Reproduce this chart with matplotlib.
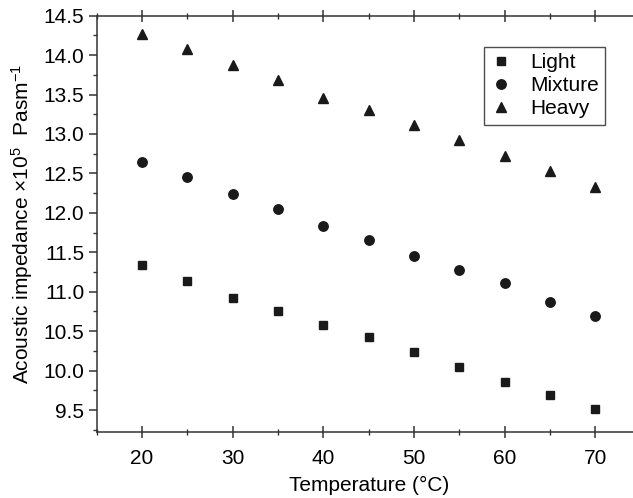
import matplotlib

matplotlib.use("Agg")
import matplotlib.pyplot as plt
from matplotlib.ticker import MultipleLocator, FormatStrFormatter

plt.rcParams["font.family"] = ["Liberation Sans", "DejaVu Sans"]
plt.rcParams["mathtext.fontset"] = "custom"
plt.rcParams["mathtext.rm"] = "Liberation Sans"
plt.rcParams["mathtext.it"] = "Liberation Sans"

temperature = [20, 25, 30, 35, 40, 45, 50, 55, 60, 65, 70]
light = [11.34, 11.13, 10.92, 10.76, 10.58, 10.42, 10.24, 10.05, 9.85, 9.69, 9.51]
mixture = [12.65, 12.45, 12.24, 12.05, 11.83, 11.66, 11.45, 11.27, 11.11, 10.87, 10.69]
heavy = [14.27, 14.08, 13.88, 13.68, 13.46, 13.31, 13.11, 12.92, 12.72, 12.53, 12.33]

FS = 15


def main() -> None:
    fig = plt.figure(figsize=(6.33, 4.98), dpi=100)
    ax = fig.add_axes([0.1528, 0.1331, 1.012 - 0.1528, 0.9685 - 0.1331])

    color = "#1a1a1a"
    ax.plot(temperature, light, "s", color=color, markersize=5.8, label="Light")
    ax.plot(temperature, mixture, "o", color=color, markersize=6.8, label="Mixture")
    ax.plot(temperature, heavy, "^", color=color, markersize=7.4, label="Heavy")

    ax.set_xlim(15, 75)
    ax.set_ylim(9.225, 14.5)
    ax.xaxis.set_major_locator(MultipleLocator(10))
    ax.xaxis.set_minor_locator(MultipleLocator(5))
    ax.yaxis.set_major_locator(MultipleLocator(0.5))
    ax.yaxis.set_minor_locator(MultipleLocator(0.25))
    ax.yaxis.set_major_formatter(FormatStrFormatter("%.1f"))

    for spine in ax.spines.values():
        spine.set_color("#333333")
        spine.set_linewidth(1.1)

    ax.tick_params(axis="x", which="both", bottom=True, top=True,
                   direction="inout", color="#333333", labelsize=FS, pad=8)
    ax.tick_params(axis="x", which="major", length=9, width=1.1)
    ax.tick_params(axis="x", which="minor", length=5, width=1.0)
    ax.tick_params(axis="y", which="both", left=True, right=True,
                   direction="out", color="#333333", labelsize=FS, pad=3)
    ax.tick_params(axis="y", which="major", length=6, width=1.1)
    ax.tick_params(axis="y", which="minor", length=3, width=1.0, right=False)

    ax.set_xlabel("Temperature (°C)", fontsize=FS, labelpad=6)
    ax.set_ylabel(r"Acoustic impedance $\times$10$^5$  Pasm$^{-1}$", fontsize=FS, labelpad=6)

    leg = ax.legend(loc="upper left", bbox_to_anchor=(0.712, 0.925), frameon=True,
                    fancybox=False, edgecolor="#222222", fontsize=FS,
                    handlelength=1.0, handletextpad=0.9, borderpad=0.3,
                    labelspacing=0.2, borderaxespad=0)
    leg.get_frame().set_linewidth(1.0)

    fig.savefig("out.png", dpi=100)
    plt.close(fig)


if __name__ == "__main__":
    main()
